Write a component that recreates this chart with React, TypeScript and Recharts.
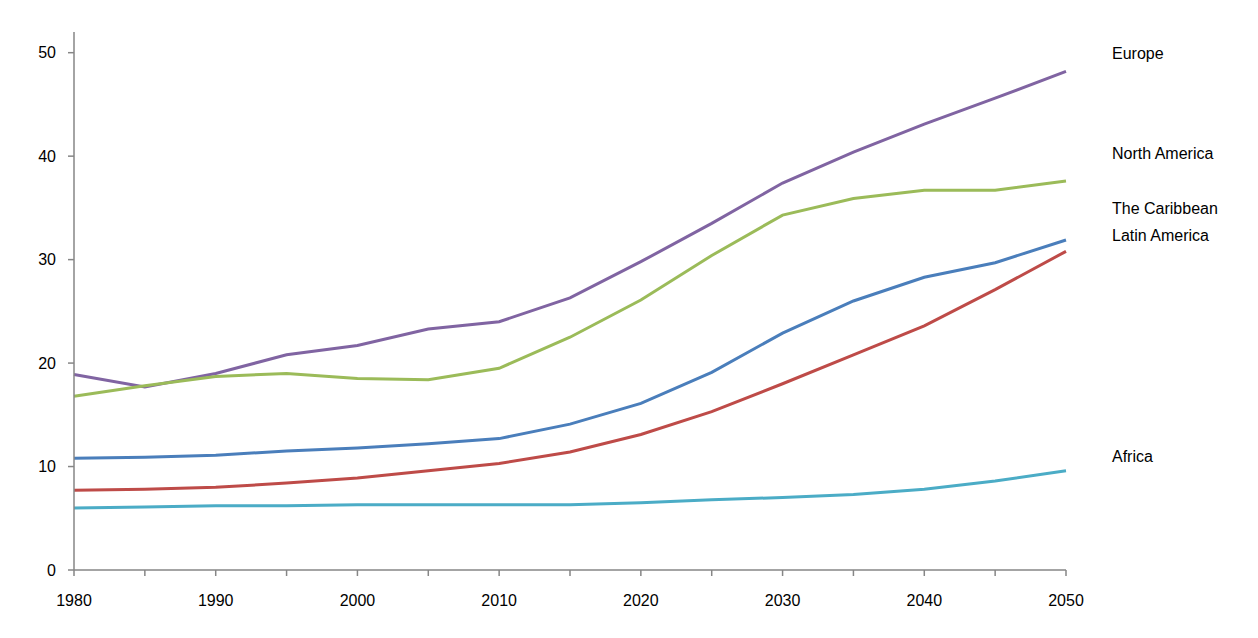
import { LineChart, Line, XAxis, YAxis } from 'recharts';

const years = [1980, 1985, 1990, 1995, 2000, 2005, 2010, 2015, 2020, 2025, 2030, 2035, 2040, 2045, 2050];

const europe = [18.9, 17.7, 19.0, 20.8, 21.7, 23.3, 24.0, 26.3, 29.8, 33.5, 37.4, 40.4, 43.1, 45.6, 48.2];
const northAmerica = [16.8, 17.8, 18.7, 19.0, 18.5, 18.4, 19.5, 22.5, 26.1, 30.4, 34.3, 35.9, 36.7, 36.7, 37.6];
const caribbean = [10.8, 10.9, 11.1, 11.5, 11.8, 12.2, 12.7, 14.1, 16.1, 19.1, 22.9, 26.0, 28.3, 29.7, 31.9];
const latinAmerica = [7.7, 7.8, 8.0, 8.4, 8.9, 9.6, 10.3, 11.4, 13.1, 15.3, 18.0, 20.8, 23.6, 27.1, 30.8];
const africa = [6.0, 6.1, 6.2, 6.2, 6.3, 6.3, 6.3, 6.3, 6.5, 6.8, 7.0, 7.3, 7.8, 8.6, 9.6];

const yTicks = [0, 10, 20, 30, 40, 50];

const series = [
  { key: 'europe', name: 'Europe', values: europe, color: '#8064A2', dy: -18 },
  { key: 'northAmerica', name: 'North America', values: northAmerica, color: '#9BBB59', dy: -28 },
  { key: 'caribbean', name: 'The Caribbean', values: caribbean, color: '#4A7EBB', dy: -32 },
  { key: 'latinAmerica', name: 'Latin America', values: latinAmerica, color: '#BE4B48', dy: -16 },
  { key: 'africa', name: 'Africa', values: africa, color: '#4BACC6', dy: -14 },
];

const data = years.map((year, i) => {
  const row: Record<string, number> = { year };
  series.forEach((s) => {
    row[s.key] = s.values[i];
  });
  return row;
});

const font = '"Liberation Sans", Arial, sans-serif';

function EndLabel(props: any, name: string, dy: number) {
  const { x, y, index } = props;
  if (index !== years.length - 1) return null;
  return (
    <text x={x + 46} y={y + dy} dy="0.35em" fontSize={16} fontFamily={font} fill="#000">
      {name}
    </text>
  );
}

export default function App() {
  return (
    <div style={{ width: 1242, height: 622 }}>
      <LineChart
        width={1242}
        height={622}
        data={data}
        margin={{ top: 24, right: 184, left: 0, bottom: 30 }}
      >
        <XAxis
          dataKey="year"
          type="number"
          domain={[1980, 2050]}
          ticks={years}
          interval={0}
          tickFormatter={(v: number) => (v % 10 === 0 ? String(v) : '')}
          axisLine={{ stroke: '#868686', strokeWidth: 1.5 }}
          tickLine={{ stroke: '#868686', strokeWidth: 1.5 }}
          tickSize={6}
          tickMargin={19}
          height={30}
          tick={{ fill: '#000', fontSize: 16, fontFamily: font }}
        />
        <YAxis
          domain={[0, 52]}
          ticks={yTicks}
          interval={0}
          axisLine={{ stroke: '#868686', strokeWidth: 1.5 }}
          tickLine={{ stroke: '#868686', strokeWidth: 1.5 }}
          tickSize={6}
          tickMargin={12}
          width={66}
          tick={{ fill: '#000', fontSize: 16, fontFamily: font }}
        />
        {series.map((s) => (
          <Line
            key={s.key}
            type="linear"
            dataKey={s.key}
            name={s.name}
            stroke={s.color}
            strokeWidth={3}
            dot={false}
            activeDot={false}
            isAnimationActive={false}
            label={(p: any) => EndLabel(p, s.name, s.dy)}
          />
        ))}
      </LineChart>
    </div>
  );
}
